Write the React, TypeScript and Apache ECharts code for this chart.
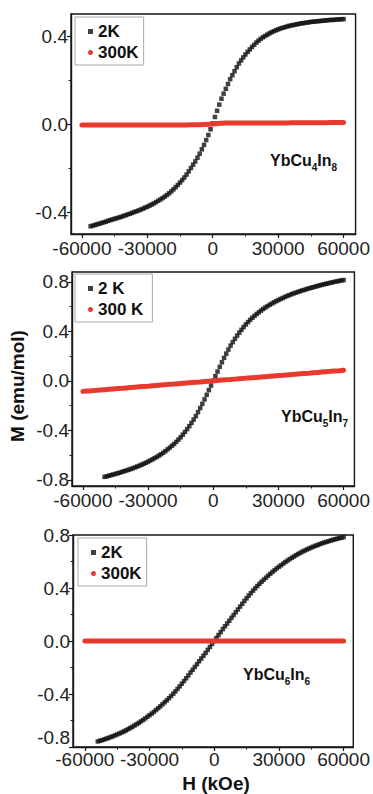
import React, { useEffect, useRef } from "react";
import * as echarts from "echarts";

const FONT = '"Liberation Sans", Arial, Helvetica, sans-serif';

// ---- Data (H in Oe, M in emu/mol) ----
const H_2K_TOP = [-56000,-55000,-54000,-53000,-52000,-51000,-50000,-49000,-48000,-47000,-46000,-45000,-44000,-43000,-42000,-41000,-40000,-39000,-38000,-37000,-36000,-35000,-34000,-33000,-32000,-31000,-30000,-29000,-28000,-27000,-26000,-25000,-24000,-23000,-22000,-21000,-20000,-19000,-18000,-17000,-16000,-15000,-14000,-13000,-12000,-11000,-10000,-9000,-8000,-7000,-6000,-5000,-4000,-3000,-2000,-1000,0,1000,2000,3000,4000,5000,6000,7000,8000,9000,10000,11000,12000,13000,14000,15000,16000,17000,18000,19000,20000,21000,22000,23000,24000,25000,26000,27000,28000,29000,30000,31000,32000,33000,34000,35000,36000,37000,38000,39000,40000,41000,42000,43000,44000,45000,46000,47000,48000,49000,50000,51000,52000,53000,54000,55000,56000,57000,58000,59000,60000];
const M_2K_TOP = [-0.465,-0.462,-0.459,-0.456,-0.453,-0.45,-0.447,-0.444,-0.44,-0.437,-0.434,-0.431,-0.428,-0.425,-0.422,-0.418,-0.415,-0.411,-0.408,-0.404,-0.4,-0.397,-0.393,-0.389,-0.385,-0.38,-0.376,-0.371,-0.366,-0.361,-0.355,-0.349,-0.343,-0.337,-0.33,-0.323,-0.315,-0.306,-0.297,-0.287,-0.277,-0.266,-0.255,-0.243,-0.23,-0.215,-0.2,-0.185,-0.17,-0.153,-0.135,-0.115,-0.095,-0.073,-0.05,-0.024,0.003,0.032,0.06,0.088,0.115,0.138,0.16,0.182,0.204,0.222,0.24,0.258,0.275,0.289,0.303,0.316,0.328,0.339,0.35,0.36,0.37,0.379,0.387,0.394,0.4,0.406,0.412,0.417,0.422,0.426,0.43,0.434,0.437,0.44,0.443,0.446,0.448,0.45,0.452,0.454,0.456,0.458,0.459,0.461,0.462,0.464,0.465,0.466,0.467,0.468,0.469,0.47,0.471,0.472,0.473,0.473,0.474,0.475,0.476,0.476,0.477];

const H_2K_MID = [-50000,-49000,-48000,-47000,-46000,-45000,-44000,-43000,-42000,-41000,-40000,-39000,-38000,-37000,-36000,-35000,-34000,-33000,-32000,-31000,-30000,-29000,-28000,-27000,-26000,-25000,-24000,-23000,-22000,-21000,-20000,-19000,-18000,-17000,-16000,-15000,-14000,-13000,-12000,-11000,-10000,-9000,-8000,-7000,-6000,-5000,-4000,-3000,-2000,-1000,0,1000,2000,3000,4000,5000,6000,7000,8000,9000,10000,11000,12000,13000,14000,15000,16000,17000,18000,19000,20000,21000,22000,23000,24000,25000,26000,27000,28000,29000,30000,31000,32000,33000,34000,35000,36000,37000,38000,39000,40000,41000,42000,43000,44000,45000,46000,47000,48000,49000,50000,51000,52000,53000,54000,55000,56000,57000,58000,59000,60000];
const M_2K_MID = [-0.776,-0.772,-0.767,-0.762,-0.757,-0.752,-0.747,-0.742,-0.736,-0.731,-0.725,-0.719,-0.713,-0.707,-0.7,-0.693,-0.686,-0.678,-0.67,-0.662,-0.653,-0.644,-0.635,-0.625,-0.615,-0.604,-0.593,-0.581,-0.568,-0.554,-0.54,-0.525,-0.51,-0.493,-0.475,-0.456,-0.435,-0.413,-0.39,-0.366,-0.34,-0.313,-0.285,-0.253,-0.22,-0.186,-0.15,-0.113,-0.075,-0.038,0,0.038,0.075,0.113,0.15,0.186,0.22,0.253,0.285,0.313,0.34,0.366,0.39,0.413,0.435,0.456,0.475,0.493,0.51,0.525,0.54,0.554,0.568,0.581,0.593,0.604,0.615,0.625,0.635,0.644,0.653,0.662,0.67,0.678,0.686,0.693,0.7,0.707,0.713,0.719,0.725,0.731,0.736,0.742,0.747,0.752,0.757,0.762,0.767,0.772,0.776,0.781,0.785,0.789,0.793,0.797,0.801,0.805,0.808,0.812,0.815];

const H_2K_BOT = [-54000,-53000,-52000,-51000,-50000,-49000,-48000,-47000,-46000,-45000,-44000,-43000,-42000,-41000,-40000,-39000,-38000,-37000,-36000,-35000,-34000,-33000,-32000,-31000,-30000,-29000,-28000,-27000,-26000,-25000,-24000,-23000,-22000,-21000,-20000,-19000,-18000,-17000,-16000,-15000,-14000,-13000,-12000,-11000,-10000,-9000,-8000,-7000,-6000,-5000,-4000,-3000,-2000,-1000,0,1000,2000,3000,4000,5000,6000,7000,8000,9000,10000,11000,12000,13000,14000,15000,16000,17000,18000,19000,20000,21000,22000,23000,24000,25000,26000,27000,28000,29000,30000,31000,32000,33000,34000,35000,36000,37000,38000,39000,40000,41000,42000,43000,44000,45000,46000,47000,48000,49000,50000,51000,52000,53000,54000,55000,56000,57000,58000,59000,60000];
const M_2K_BOT = [-0.758,-0.753,-0.748,-0.743,-0.737,-0.731,-0.725,-0.719,-0.712,-0.705,-0.698,-0.691,-0.683,-0.675,-0.666,-0.657,-0.648,-0.638,-0.628,-0.618,-0.607,-0.596,-0.584,-0.572,-0.56,-0.548,-0.535,-0.521,-0.507,-0.493,-0.478,-0.463,-0.448,-0.432,-0.415,-0.398,-0.38,-0.361,-0.342,-0.322,-0.302,-0.281,-0.26,-0.238,-0.217,-0.196,-0.175,-0.153,-0.132,-0.111,-0.09,-0.067,-0.045,-0.022,0,0.022,0.045,0.067,0.09,0.111,0.132,0.153,0.175,0.196,0.217,0.238,0.26,0.281,0.302,0.322,0.342,0.361,0.38,0.398,0.415,0.432,0.448,0.463,0.478,0.493,0.507,0.521,0.535,0.548,0.56,0.572,0.584,0.596,0.607,0.618,0.628,0.638,0.648,0.657,0.666,0.675,0.683,0.691,0.698,0.705,0.712,0.719,0.725,0.731,0.737,0.743,0.748,0.753,0.758,0.763,0.767,0.772,0.776,0.78,0.784];

const H_300K = [-60000,-58000,-56000,-54000,-52000,-50000,-48000,-46000,-44000,-42000,-40000,-38000,-36000,-34000,-32000,-30000,-28000,-26000,-24000,-22000,-20000,-18000,-16000,-14000,-12000,-10000,-8000,-6000,-4000,-2000,0,2000,4000,6000,8000,10000,12000,14000,16000,18000,20000,22000,24000,26000,28000,30000,32000,34000,36000,38000,40000,42000,44000,46000,48000,50000,52000,54000,56000,58000,60000];
const M_300K_TOP = [-0.005,-0.005,-0.005,-0.005,-0.005,-0.005,-0.005,-0.005,-0.005,-0.005,-0.005,-0.005,-0.005,-0.005,-0.005,-0.005,-0.005,-0.005,-0.005,-0.005,-0.004,-0.004,-0.004,-0.004,-0.004,-0.003,-0.003,-0.003,-0.002,-0.001,0,0.002,0.003,0.004,0.004,0.004,0.004,0.004,0.005,0.005,0.005,0.005,0.005,0.005,0.005,0.005,0.005,0.005,0.006,0.006,0.006,0.006,0.006,0.006,0.006,0.006,0.006,0.007,0.007,0.007,0.007];
const M_300K_MID = [-0.085,-0.082,-0.08,-0.077,-0.074,-0.071,-0.068,-0.065,-0.062,-0.06,-0.057,-0.054,-0.051,-0.048,-0.045,-0.043,-0.04,-0.037,-0.034,-0.031,-0.028,-0.026,-0.023,-0.02,-0.017,-0.014,-0.011,-0.009,-0.006,-0.003,0,0.003,0.006,0.009,0.011,0.014,0.017,0.02,0.023,0.026,0.028,0.031,0.034,0.037,0.04,0.043,0.045,0.048,0.051,0.054,0.057,0.06,0.062,0.065,0.068,0.071,0.074,0.077,0.08,0.082,0.085];
const M_300K_BOT = [0,0,0,0,0,0,0,0,0,0,0,0,0,0,0,0,0,0,0,0,0,0,0,0,0,0,0,0,0,0,0,0,0,0,0,0,0,0,0,0,0,0,0,0,0,0,0,0,0,0,0,0,0,0,0,0,0,0,0,0,0];

const X_TICKS = [-60000, -30000, 0, 30000, 60000];
const X_MINOR = [-45000, -15000, 15000, 45000];
const Y_TICKS_TOP = [-0.4, 0, 0.4];
const Y_MINOR_TOP = [-0.2, 0.2];
const Y_TICKS = [-0.8, -0.4, 0, 0.4, 0.8];
const Y_MINOR = [-0.6, -0.2, 0.2, 0.6];

const LEGEND_TOP = ["2K", "300K"];
const LEGEND_MID = ["2 K", "300 K"];
const LEGEND_BOT = ["2K", "300K"];

const zip = (h: number[], m: number[]) => h.map((x, i) => [x, m[i]]);

const AX = "#161616";
const BLACK = "#101010";
const RED = "#e8392f";

export default function App() {
  const ref = useRef<HTMLDivElement>(null);
  useEffect(() => {
    if (!ref.current) return;
    const chart = echarts.init(ref.current, null, { renderer: "svg" });

    const grids = [
      { left: 71, top: 14, width: 290, height: 220 },
      { left: 72, top: 272, width: 285, height: 214 },
      { left: 73, top: 535, width: 285, height: 212 },
    ];
    const xr = [
      [-65000, 65500],
      [-65000, 65000],
      [-65500, 64500],
    ];
    const yr = [
      [-0.5, 0.5],
      [-0.85, 0.88],
      [-0.8, 0.8],
    ];
    const xMargins = [5, 5, 3];
    const yTicks = [Y_TICKS_TOP, Y_TICKS, Y_TICKS];
    const yMinor = [Y_MINOR_TOP, Y_MINOR, Y_MINOR];

    const mainX = grids.map((_, i) => ({
      type: "value",
      gridIndex: i,
      min: xr[i][0],
      max: xr[i][1],
      position: "bottom",
      offset: 0,
      axisLine: { show: true, onZero: false, lineStyle: { color: AX, width: 1.4 } },
      axisTick: { show: true, inside: false, length: 4, customValues: X_TICKS, lineStyle: { color: AX, width: 1.2 } },
      axisLabel: {
        customValues: X_TICKS,
        fontSize: 19,
        fontFamily: FONT,
        color: "#222",
        margin: xMargins[i],
        formatter: (v: number) => String(v),
      },
      splitLine: { show: false },
    }));
    const minorX = grids.map((_, i) => ({
      type: "value",
      gridIndex: i,
      min: xr[i][0],
      max: xr[i][1],
      position: "bottom",
      offset: 0,
      axisLine: { show: false, onZero: false },
      axisTick: { show: true, inside: false, length: 2.5, customValues: X_MINOR, lineStyle: { color: AX, width: 1 } },
      axisLabel: { show: false },
      splitLine: { show: false },
    }));
    const mainY = grids.map((_, i) => ({
      type: "value",
      gridIndex: i,
      min: yr[i][0],
      max: yr[i][1],
      position: "left",
      offset: 0,
      axisLine: { show: true, onZero: false, lineStyle: { color: AX, width: 1.4 } },
      axisTick: { show: true, inside: false, length: 4, customValues: yTicks[i], lineStyle: { color: AX, width: 1.2 } },
      axisLabel: {
        customValues: yTicks[i],
        fontSize: 19,
        fontFamily: FONT,
        color: "#222",
        margin: 3,
        lineHeight: 19,
        verticalAlignMinLabel: i === 2 ? "bottom" : undefined,
        formatter: (v: number) => v.toFixed(1),
      },
      splitLine: { show: false },
    }));
    const minorY = grids.map((_, i) => ({
      type: "value",
      gridIndex: i,
      min: yr[i][0],
      max: yr[i][1],
      position: "left",
      offset: 0,
      axisLine: { show: false, onZero: false },
      axisTick: { show: true, inside: false, length: 2.5, customValues: yMinor[i], lineStyle: { color: AX, width: 1 } },
      axisLabel: { show: false },
      splitLine: { show: false },
    }));

    const blackSeries = (name: string, i: number, h: number[], m: number[]) => ({
      type: "scatter",
      name,
      xAxisIndex: i,
      yAxisIndex: i,
      symbol: "rect",
      symbolSize: 4.5,
      itemStyle: { color: BLACK },
      data: zip(h, m),
      z: 2,
    });
    const redSeries = (name: string, i: number, h: number[], m: number[]) => ({
      type: "line",
      name,
      xAxisIndex: i,
      yAxisIndex: i,
      showSymbol: false,
      symbol: "circle",
      lineStyle: { color: RED, width: 5, cap: "round" },
      itemStyle: { color: RED },
      data: zip(h, m),
      z: 3,
    });

    const legend = (names: string[], left: number, top: number, padRight: number) => ({
      orient: "vertical",
      left,
      top,
      data: [
        { name: names[0], icon: "rect" },
        { name: names[1], icon: "circle" },
      ],
      itemWidth: 5,
      itemHeight: 5,
      itemGap: 4,
      padding: [6, padRight, 4, 13],
      borderColor: "#a8a8a8",
      borderWidth: 1,
      borderRadius: 0,
      backgroundColor: "#ffffff",
      selectedMode: false,
      textStyle: { fontSize: 17, fontWeight: "bold", color: "#111", fontFamily: FONT },
    });

    const compound = (base1: string, s1: string, base2: string, s2: string, x: number, y: number) => ({
      type: "text",
      x,
      y,
      z: 100,
      style: {
        text: `{b|${base1}}{s|${s1}}{b|${base2}}{s|${s2}}`,
        verticalAlign: "middle",
        align: "left",
        rich: {
          b: { fontSize: 16, fontWeight: "bold", fontFamily: FONT, fill: "#111", lineHeight: 24, verticalAlign: "middle" },
          s: { fontSize: 10, fontWeight: "bold", fontFamily: FONT, fill: "#111", lineHeight: 24, verticalAlign: "bottom" },
        },
      },
    });

    const option = {
      animation: false,
      backgroundColor: "#ffffff",
      grid: grids.map((g) => ({
        ...g,
        show: true,
        borderColor: AX,
        borderWidth: 1.4,
        backgroundColor: "transparent",
      })),
      xAxis: [...mainX, ...minorX],
      yAxis: [...mainY, ...minorY],
      legend: [
        legend(LEGEND_TOP, 75, 17, 5),
        legend(LEGEND_MID, 75, 274, 9),
        legend(LEGEND_BOT, 78, 538, 5),
      ],
      series: [
        blackSeries(LEGEND_TOP[0], 0, H_2K_TOP, M_2K_TOP),
        redSeries(LEGEND_TOP[1], 0, H_300K, M_300K_TOP),
        blackSeries(LEGEND_MID[0], 1, H_2K_MID, M_2K_MID),
        redSeries(LEGEND_MID[1], 1, H_300K, M_300K_MID),
        blackSeries(LEGEND_BOT[0], 2, H_2K_BOT, M_2K_BOT),
        redSeries(LEGEND_BOT[1], 2, H_300K, M_300K_BOT),
      ],
      graphic: [
        compound("YbCu", "4", "In", "8", 270, 160),
        compound("YbCu", "5", "In", "7", 281, 416),
        compound("YbCu", "6", "In", "6", 243, 674),
        {
          type: "text",
          x: 17,
          y: 386,
          rotation: Math.PI / 2,
          style: {
            text: "M (emu/mol)",
            align: "center",
            verticalAlign: "middle",
            font: `bold 19px ${FONT}`,
            fill: "#111",
          },
        },
        {
          type: "text",
          x: 216,
          y: 783,
          style: {
            text: "H (kOe)",
            align: "center",
            verticalAlign: "middle",
            font: `bold 19px ${FONT}`,
            fill: "#111",
          },
        },
      ],
    };

    chart.setOption(option as any);
    return () => chart.dispose();
  }, []);

  return (
    <div
      ref={ref}
      style={{ position: "fixed", left: 0, top: 0, width: 373, height: 794, background: "#fff" }}
    />
  );
}
